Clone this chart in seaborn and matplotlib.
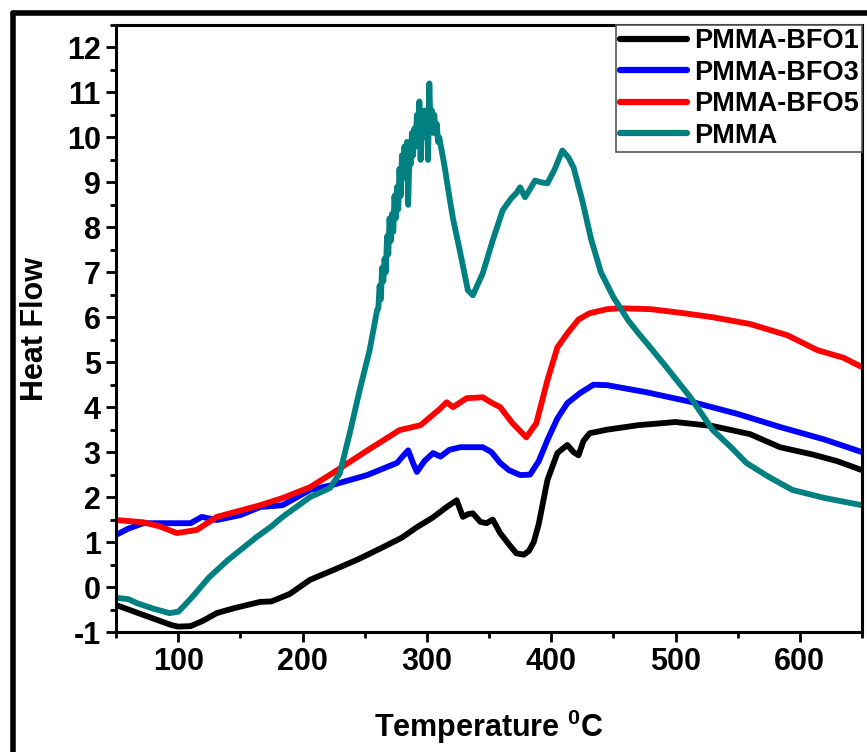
import numpy as np
import pandas as pd
import matplotlib
matplotlib.use('Agg')
import matplotlib.pyplot as plt
import seaborn as sns
from matplotlib.lines import Line2D
from matplotlib.ticker import MultipleLocator

# ---- data ----
t_bfo1 = [50, 60, 72, 85, 95, 100, 110, 120, 131, 145, 166, 175, 190, 206, 225, 245, 265,
          280, 292, 305, 316, 324, 329, 333, 337, 343, 348, 353, 359, 366, 372, 378, 382,
          386, 390, 397, 405, 413, 418, 422, 426, 431, 445, 470, 500, 530, 560, 584, 610,
          630, 650]
hf_bfo1 = [-0.4, -0.5, -0.62, -0.75, -0.85, -0.88, -0.87, -0.75, -0.58, -0.47, -0.33, -0.32,
           -0.15, 0.16, 0.38, 0.62, 0.89, 1.1, 1.33, 1.55, 1.78, 1.93, 1.56, 1.62, 1.64, 1.45,
           1.42, 1.5, 1.2, 0.95, 0.75, 0.72, 0.8, 1.0, 1.4, 2.38, 2.98, 3.16, 3.0, 2.93, 3.25,
           3.42, 3.5, 3.6, 3.67, 3.58, 3.4, 3.11, 2.95, 2.8, 2.6]

t_bfo3 = [50, 60, 72, 85, 99, 110, 119, 131, 150, 166, 184, 206, 224, 252, 276, 282, 285,
          289, 292, 298, 305, 311, 318, 327, 345, 352, 359, 366, 375, 383, 390, 397, 405,
          413, 423, 434, 445, 477, 517, 550, 584, 620, 650]
hf_bfo3 = [1.16, 1.3, 1.42, 1.42, 1.42, 1.42, 1.56, 1.49, 1.6, 1.78, 1.82, 2.16, 2.27, 2.49,
           2.76, 2.95, 3.04, 2.75, 2.56, 2.8, 2.98, 2.9, 3.05, 3.11, 3.11, 3.0, 2.76, 2.6,
           2.49, 2.5, 2.8, 3.27, 3.75, 4.09, 4.31, 4.5, 4.49, 4.33, 4.09, 3.85, 3.56, 3.28, 3.0]

t_bfo5 = [50, 72, 85, 99, 115, 131, 150, 166, 184, 206, 224, 250, 278, 295, 310, 316, 321,
          332, 345, 352, 359, 369, 380, 388, 397, 405, 413, 422, 431, 445, 455, 480, 504,
          530, 560, 590, 614, 635, 650]
hf_bfo5 = [1.49, 1.44, 1.35, 1.2, 1.27, 1.56, 1.7, 1.82, 1.98, 2.22, 2.53, 3.0, 3.49, 3.6,
           3.95, 4.11, 4.0, 4.2, 4.22, 4.1, 4.0, 3.64, 3.33, 3.64, 4.6, 5.33, 5.64, 5.95, 6.09,
           6.18, 6.2, 6.18, 6.1, 6.0, 5.85, 5.6, 5.27, 5.1, 4.89]

t_pmma = [50, 60, 67, 80, 93, 100, 104, 112, 125, 140, 163, 175, 184, 206, 222, 230, 238,
          246, 254, 260,
          261, 262, 263, 264, 265, 266, 267, 268, 269, 270, 271, 272, 273, 274, 275, 276,
          277, 278, 279, 280, 281, 282, 283, 284, 285, 286, 287, 288, 289, 290, 291, 292,
          293, 294, 295, 296, 297, 298, 299, 300, 301, 302, 303, 304, 305, 306, 307, 308,
          309, 310, 312, 314, 316, 318,
          321, 327, 333, 337, 345, 353, 361, 368, 372, 375, 379, 383, 387, 392, 397, 403,
          409, 414, 418, 425, 432, 440, 450, 462, 470, 477, 485, 493, 501, 512, 530, 545,
          557, 575, 594, 620, 650]
hf_pmma = [-0.24, -0.27, -0.36, -0.48, -0.58, -0.55, -0.44, -0.2, 0.22, 0.6, 1.11, 1.35,
           1.56, 2.0, 2.2, 2.53, 3.42, 4.38, 5.27, 6.16,
           6.2, 6.7, 6.4, 7.1, 6.8, 7.3, 7.0, 7.8, 7.4, 8.2, 7.7, 8.3, 7.9, 8.7, 8.2, 8.9,
           8.4, 9.3, 8.7, 9.6, 9.1, 9.8, 9.3, 9.9, 8.5, 9.6, 9.4, 10.1, 9.6, 10.2, 9.8, 10.5,
           10.0, 10.8, 9.5, 10.4, 10.0, 10.6, 10.1, 10.5, 9.5, 11.2, 10.2, 10.6, 10.1, 10.5,
           10.1, 10.3, 9.9, 10.0, 9.7, 9.4, 9.05, 8.7,
           8.2, 7.42, 6.6, 6.49, 6.98, 7.71, 8.38, 8.65, 8.76, 8.89, 8.67, 8.85, 9.04, 9.0,
           8.98, 9.3, 9.71, 9.55, 9.33, 8.6, 7.75, 7.0, 6.45, 5.93, 5.65, 5.42, 5.15, 4.88,
           4.6, 4.22, 3.49, 3.1, 2.76, 2.45, 2.16, 1.98, 1.82]

labels = ['PMMA-BFO1', 'PMMA-BFO3', 'PMMA-BFO5', 'PMMA']
colors = ['#000000', '#0000ff', '#ff0000', '#008080']

frames = []
for name, t, hf in zip(labels, [t_bfo1, t_bfo3, t_bfo5, t_pmma],
                       [hf_bfo1, hf_bfo3, hf_bfo5, hf_pmma]):
    frames.append(pd.DataFrame({'T': t, 'HF': hf, 'sample': name}))
df = pd.concat(frames, ignore_index=True)

sns.set_theme(style='ticks')
plt.rcParams['font.family'] = ['Liberation Sans', 'DejaVu Sans']
plt.rcParams['font.weight'] = 'bold'
plt.rcParams['axes.unicode_minus'] = False
plt.rcParams['mathtext.fontset'] = 'custom'
plt.rcParams['mathtext.bf'] = 'Liberation Sans:bold'
plt.rcParams['mathtext.rm'] = 'Liberation Sans:bold'
for k in ['text.color', 'axes.labelcolor', 'xtick.color', 'ytick.color', 'axes.edgecolor']:
    plt.rcParams[k] = 'black'

fig = plt.figure(figsize=(8.67, 7.52), dpi=100)
ax = fig.add_axes([116 / 867, 1 - 632 / 752, (862 - 116) / 867, (632 - 25) / 752])

sns.lineplot(data=df, x='T', y='HF', hue='sample', hue_order=labels,
             palette=dict(zip(labels, colors)), estimator=None, sort=False,
             linewidth=4.2, ax=ax)

ax.set_xlim(50, 650)
ax.set_ylim(-1, 12.5)
ax.xaxis.set_major_locator(MultipleLocator(100))
ax.xaxis.set_minor_locator(MultipleLocator(50))
ax.yaxis.set_major_locator(MultipleLocator(1))
ax.yaxis.set_minor_locator(MultipleLocator(0.5))
ax.tick_params(which='major', direction='out', length=7, width=2, labelsize=22, pad=4)
ax.tick_params(which='minor', direction='out', length=4, width=2)
for s in ax.spines.values():
    s.set_linewidth(2.2)
    s.set_color('black')
for lab in ax.get_xticklabels() + ax.get_yticklabels():
    lab.set_fontweight('bold')

ax.set_xlabel(r'Temperature $^{\mathbf{0}}$C', fontsize=22, fontweight='bold', labelpad=22)
ax.set_ylabel('Heat Flow', fontsize=22, fontweight='bold', labelpad=12)

leg = ax.legend(loc='upper right', bbox_to_anchor=(1, 1), borderaxespad=0,
                fontsize=19.5, handlelength=2.5, handletextpad=0.25, labelspacing=0.2,
                borderpad=0.12, fancybox=False, framealpha=1, edgecolor='#555555')
leg.get_frame().set_linewidth(1.2)
for txt in leg.get_texts():
    txt.set_fontweight('bold')
for h in leg.get_lines():
    h.set_linewidth(4.5)
    h.set_solid_capstyle('round')

# thick outer frame of the figure (left and top sides)
fig.add_artist(Line2D([12.5 / 867, 1], [1 - 12.5 / 752, 1 - 12.5 / 752],
                      transform=fig.transFigure, color='black', linewidth=4))
fig.add_artist(Line2D([12.5 / 867, 12.5 / 867], [0, 1 - 12.5 / 752],
                      transform=fig.transFigure, color='black', linewidth=4))

fig.savefig('out.png', dpi=100)
